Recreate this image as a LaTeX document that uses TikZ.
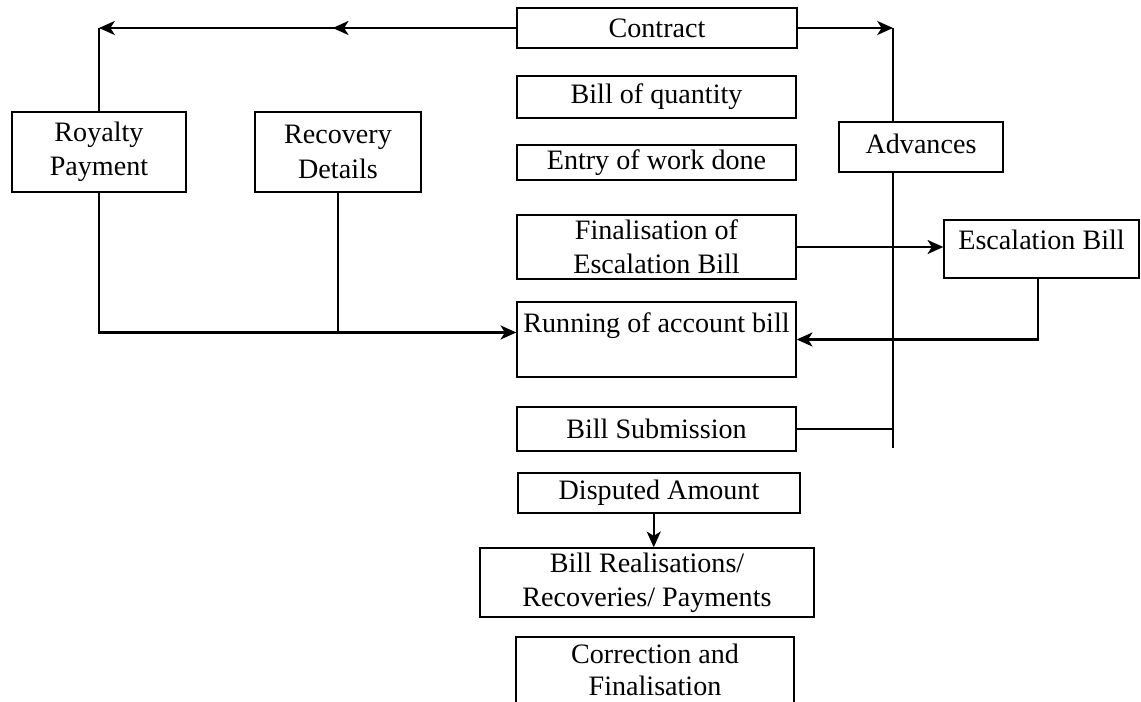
\documentclass[tikz,border=0pt]{standalone}
\usepackage{fontspec}
\setmainfont{Liberation Serif}
\usetikzlibrary{arrows.meta, calc, decorations.markings}
\tikzset{>={Stealth[length=9pt,width=8pt,inset=2.5pt]}}
\tikzset{
  box/.style={draw, line width=0.8pt, inner sep=0pt, align=center,
    font=\fontsize{16}{19.5}\selectfont},
  link/.style={line width=1.2pt},
  midarrow/.style={postaction={decorate}, decoration={markings,
    mark=at position #1 with {\arrow{>}}}},
  midarrow/.default=0.5
}

\begin{document}
\begin{tikzpicture}[x=0.02cm, y=-0.02cm]
            \clip (0,0) rectangle (1141,702);
            \fill[white] (0,0) rectangle (1141,702);
            % middle column
            \node[box, minimum width=5.6cm, minimum height=0.8cm] (contract) at (657,28) {Contract};
            \node[box, minimum width=5.58cm, minimum height=0.84cm] (boq) at (656.5,97) {Bill of quantity};
            \node[box, minimum width=5.58cm, minimum height=0.7cm] (entry) at (656.5,162.5) {Entry of work done};
            \node[box, minimum width=5.58cm, minimum height=1.28cm] (final) at (656.5,247) {Finalisation of\\Escalation Bill};
            \node[box, minimum width=5.58cm, minimum height=1.5cm] (running) at (656.5,339.5) {Running of account bill\\ \mbox{}};
            \node[box, minimum width=5.58cm, minimum height=0.88cm] (submission) at (656.5,429) {Bill Submission};
            \node[box, minimum width=5.64cm, minimum height=0.8cm] (disputed) at (659,493) {Disputed Amount};
            \node[box, minimum width=6.68cm, minimum height=1.38cm] (realis) at (647,582.5) {Bill Realisations/\\Recoveries/ Payments};
            \node[box, minimum width=5.56cm, minimum height=1.32cm, font=\fontsize{16}{18}\selectfont] (correction) at (655,670) {Correction and\\Finalisation};
            % side boxes
            \node[box, minimum width=3.48cm, minimum height=1.6cm] (royalty) at (99,152) {Royalty\\Payment};
            \node[box, minimum width=3.32cm, minimum height=1.6cm] (recovery) at (338,152) {Recovery\\Details};
            \node[box, minimum width=3.28cm, minimum height=1.0cm] (advances) at (921,147) {\raisebox{2pt}[\height][\depth]{Advances}};
            \node[box, minimum width=3.9cm, minimum height=1.16cm] (escal) at (1041.5,249) {\raisebox{5pt}[\height][\depth]{Escalation Bill}};
            % connectors
            \coordinate (topleft) at (royalty.north |- contract.west);
            \draw[link, ->, midarrow=0.44] (contract.west) -- (topleft);
            \draw[link] (topleft) -- (royalty.north);
            \coordinate (advtop) at ([xshift=-0.56cm]advances.north);
            \coordinate (advbot) at ([xshift=-0.56cm]advances.south);
            \coordinate (topright) at (advtop |- contract.east);
            \draw[link, ->] (contract.east) -- (topright);
            \draw[link] (topright) -- (advtop);
            \coordinate (advend) at ($(advbot)+(0,275)$);
            \draw[link] (advbot) -- (advend);
            \draw[link] (submission.east) -- (submission.east -| advbot);
            \coordinate (runin) at ([yshift=4pt]running.west);
            \draw[link, ->] (royalty.south) -- (royalty.south |- runin) -- (runin);
            \draw[link] (recovery.south) -- (recovery.south |- runin);
            \draw[link, ->] (final.east) -- (final.east -| escal.west);
            \draw[link, ->] ([xshift=-2pt]escal.south) |- (running.east);
            \draw[link, ->] ([xshift=-3pt]disputed.south) -- ([xshift=-3pt]disputed.south |- realis.north);
        \end{tikzpicture}
\end{document}
